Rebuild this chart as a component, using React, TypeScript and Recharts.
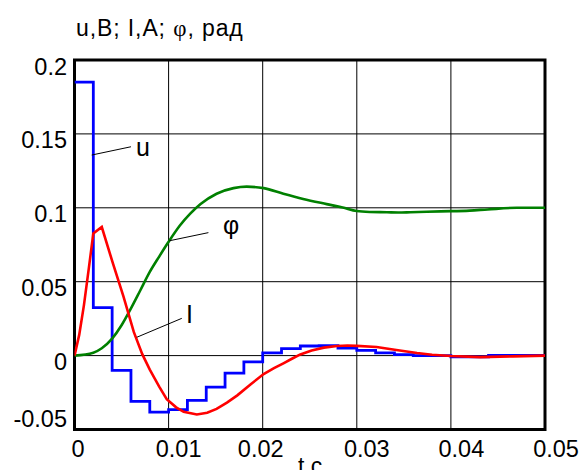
import React from 'react'
import {
  LineChart,
  Line,
  XAxis,
  YAxis,
  CartesianGrid,
  ReferenceArea,
  ReferenceLine,
} from 'recharts'

// axis ticks
const xTicks = [0, 0.01, 0.02, 0.03, 0.04, 0.05]
const yTicks = [-0.05, 0, 0.05, 0.1, 0.15, 0.2]

// u, B (step signal)
const tU = [
  0, 0.002, 0.004, 0.006, 0.008, 0.01, 0.012, 0.014, 0.016, 0.018, 0.02, 0.022, 0.024,
  0.026, 0.028, 0.03, 0.032, 0.034, 0.036, 0.038, 0.04, 0.042, 0.044, 0.046, 0.048, 0.05,
]
const uValues = [
  0.185, 0.0325, -0.01, -0.031, -0.0382, -0.0366, -0.0303, -0.0213, -0.0118, -0.0043,
  0.0018, 0.0047, 0.0065, 0.0068, 0.005, 0.0036, 0.0018, 0.0007, 0, 0, -0.0008, -0.0008,
  0.0002, 0.0002, 0.0002, 0.0002,
]

// I, A
const tI = [
  0, 0.0005, 0.001, 0.0015, 0.002, 0.0029, 0.0041, 0.0052, 0.0063, 0.0072, 0.008, 0.009,
  0.0098, 0.0108, 0.0116, 0.013, 0.0141, 0.0151, 0.0162, 0.0173, 0.0187, 0.0201, 0.0212,
  0.0222, 0.0232, 0.024, 0.0252, 0.0265, 0.0279, 0.029, 0.03, 0.0321, 0.0342, 0.0364,
  0.038, 0.04, 0.0431, 0.0466, 0.05,
]
const iValues = [
  0, 0.014, 0.034, 0.058, 0.0826, 0.087, 0.062, 0.04, 0.016, 0.001, -0.0095, -0.021,
  -0.0295, -0.035, -0.038, -0.0398, -0.0387, -0.0361, -0.0318, -0.0269, -0.0195, -0.0125,
  -0.0085, -0.0052, -0.0018, 0.0008, 0.0034, 0.0054, 0.0065, 0.0068, 0.0066, 0.0058,
  0.0038, 0.0018, 0.0006, -0.0003, -0.001, -0.0005, 0,
]

// phi, rad
const tPhi = [
  0, 0.002, 0.0029, 0.004, 0.005, 0.0059, 0.007, 0.008, 0.009, 0.01, 0.0112, 0.0123,
  0.0134, 0.0151, 0.0169, 0.0183, 0.0201, 0.0222, 0.0243, 0.0268, 0.0285, 0.03, 0.0314,
  0.0332, 0.0344, 0.0357, 0.0389, 0.042, 0.0439, 0.047, 0.05,
]
const phiValues = [
  0, 0.002, 0.005, 0.0115, 0.0205, 0.0307, 0.0442, 0.0566, 0.067, 0.077, 0.088, 0.096,
  0.1025, 0.1095, 0.1133, 0.1143, 0.1133, 0.1095, 0.106, 0.1025, 0.1002, 0.0978, 0.0972,
  0.097, 0.0968, 0.097, 0.0976, 0.0981, 0.0989, 0.1, 0.1,
]

const uData = tU.map((t, i) => ({ t, v: uValues[i] }))
const iData = tI.map((t, i) => ({ t, v: iValues[i] }))
const phiData = tPhi.map((t, i) => ({ t, v: phiValues[i] }))

const FONT = '"Liberation Sans", Arial, sans-serif'

// mathcad puts the x labels a bit to the right, 0.02 moved for the axis title
const xLabelShift = [3.5, 10, -2, 10, 10.5, 11]

const XTick = (props: any) => {
  const { x, payload, index } = props
  return (
    <text x={x + xLabelShift[index]} y={457} textAnchor="middle" fontSize={23.5} fontFamily={FONT} fill="#000">
      {String(payload.value)}
    </text>
  )
}

const YTick = (props: any) => {
  const { y, payload } = props
  const dy = payload.value === -0.05 ? -2.5 : 14.5
  return (
    <text x={67} y={y + dy} textAnchor="end" fontSize={23.5} fontFamily={FONT} fill="#000">
      {String(payload.value)}
    </text>
  )
}

const App: React.FC = () => {
  return (
    <div style={{ position: 'relative', width: 584, height: 470 }}>
      <style>{'body{margin:0}'}</style>
      <LineChart
        width={584}
        height={470}
        margin={{ top: 60, right: 39, bottom: 10.5, left: 14.5 }}
      >
        <CartesianGrid stroke="#000" strokeWidth={1} />
        <XAxis
          dataKey="t"
          type="number"
          domain={[0, 0.05]}
          ticks={xTicks}
          height={30}
          axisLine={false}
          tickLine={false}
          tick={<XTick />}
          allowDataOverflow
        />
        <YAxis
          type="number"
          domain={[-0.05, 0.2]}
          ticks={yTicks}
          width={60}
          axisLine={false}
          tickLine={false}
          tick={<YTick />}
          allowDataOverflow
        />
        <Line data={uData} dataKey="v" type="stepAfter" stroke="#0000ff" strokeWidth={2.8} dot={false} isAnimationActive={false} />
        <Line data={phiData} dataKey="v" type="monotone" stroke="#008000" strokeWidth={2.6} dot={false} isAnimationActive={false} />
        <Line data={iData} dataKey="v" type="linear" stroke="#ff0000" strokeWidth={2.6} dot={false} isAnimationActive={false} />
        <ReferenceLine segment={[{ x: 0.00183, y: 0.1357 }, { x: 0.006, y: 0.1413 }]} stroke="#000" strokeWidth={1} />
        <ReferenceLine segment={[{ x: 0.01009, y: 0.0777 }, { x: 0.01423, y: 0.0832 }]} stroke="#000" strokeWidth={1} />
        <ReferenceLine segment={[{ x: 0.00662, y: 0.0124 }, { x: 0.0114, y: 0.0252 }]} stroke="#000" strokeWidth={1} />
        <ReferenceArea x1={0} x2={0.05} y1={-0.05} y2={0.2} fill="none" stroke="#000" strokeWidth={3} />
      </LineChart>
      <svg
        width={584}
        height={470}
        style={{ position: 'absolute', left: 0, top: 0, pointerEvents: 'none' }}
        fontFamily={FONT}
      >
        <text x={76} y={36} fontSize={23} letterSpacing={0.9}>
          u,B; I,A; <tspan fontFamily='"Liberation Serif", serif'>φ</tspan>, рад
        </text>
        <text x={136} y={156} fontSize={25}>u</text>
        <text x={223} y={234} fontSize={25}>φ</text>
        <text x={186} y={323} fontSize={25}>I</text>
        <text x={298} y={474} fontSize={23}>t,c</text>
      </svg>
    </div>
  )
}

export default App
